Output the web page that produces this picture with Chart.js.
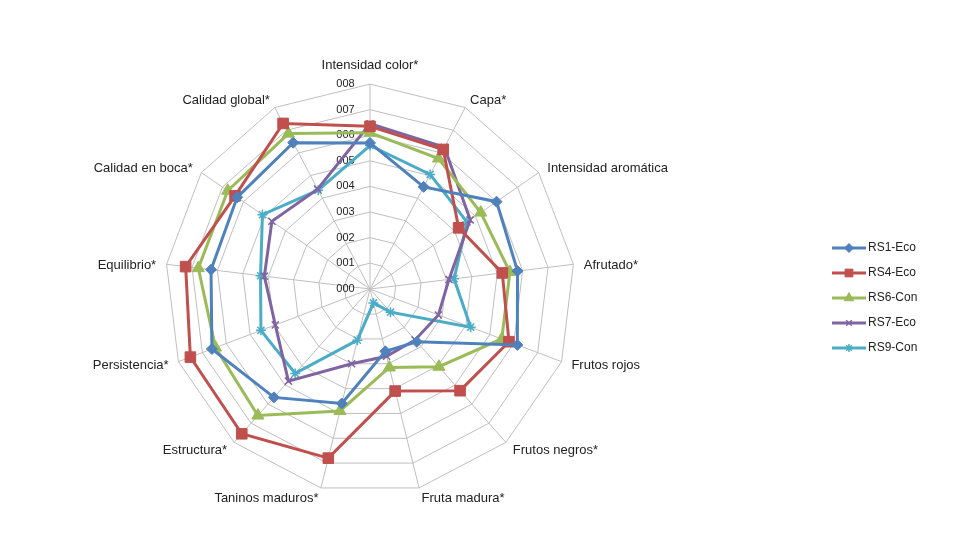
<!DOCTYPE html>
<html>
<head>
<meta charset="utf-8">
<script src="https://cdn.jsdelivr.net/npm/chart.js@4/dist/chart.umd.min.js"></script>
<style>
html,body{margin:0;padding:0;background:#fff;}
#wrap{width:980px;height:560px;position:relative;}
</style>
</head>
<body>
<div id="wrap"><canvas id="c" width="980" height="560"></canvas></div>
<script>
const categories = ["Intensidad color*", "Capa*", "Intensidad aromática", "Afrutado*", "Frutos rojos", "Frutos negros*", "Fruta madura*", "Taninos maduros*", "Estructura*", "Persistencia*", "Equilibrio*", "Calidad en boca*", "Calidad global*"];
const seriesNames = ["RS1-Eco", "RS4-Eco", "RS6-Con", "RS7-Eco", "RS9-Con"];
const rs1 = [5.7, 4.5, 6.0, 5.8, 6.15, 2.75, 2.5, 4.6, 5.65, 6.6, 6.25, 6.3, 6.45];
const rs4 = [6.35, 6.15, 4.2, 5.2, 5.8, 5.3, 4.1, 6.8, 7.55, 7.5, 7.25, 6.4, 7.3];
const rs6 = [6.1, 5.75, 5.25, 5.5, 5.5, 4.05, 3.15, 4.9, 6.6, 6.45, 6.75, 6.75, 6.85];
const rs7 = [6.45, 6.25, 4.75, 3.1, 2.85, 2.65, 2.7, 3.0, 4.8, 3.95, 4.15, 4.65, 4.4];
const rs9 = [5.6, 5.05, 4.6, 3.3, 4.2, 1.2, 0.55, 2.05, 4.4, 4.55, 4.3, 5.1, 4.35];
const tickLabels = ["000", "001", "002", "003", "004", "005", "006", "007", "008"];

const colors = ["#4F81BD", "#C0504D", "#9BBB59", "#8064A2", "#4BACC6"];
const markers = ["rectRot", "rect", "triangle", "crossRot", "star"];
const radii = [5.5, 7.5, 7, 5, 5];
const legendRadii = [4.5, 5.5, 5.5, 4, 4];
const values = [rs1, rs4, rs6, rs7, rs9];

const datasets = values.map((v, i) => ({
  label: seriesNames[i],
  data: v,
  borderColor: colors[i],
  backgroundColor: colors[i],
  pointBackgroundColor: colors[i],
  pointBorderColor: colors[i],
  pointStyle: markers[i],
  pointRadius: radii[i],
  pointBorderWidth: (i >= 3) ? 1.5 : 1,
  borderWidth: 3,
  fill: false,
  tension: 0
}));

// Excel-like vertical placement of the category labels (centred on their anchor)
const labelShiftPlugin = {
  id: 'labelShift',
  afterLayout(chart) {
    const s = chart.scales.r;
    if (!s || !s._pointLabelItems) return;
    const n = s._pointLabelItems.length;
    s._pointLabelItems.forEach((it, i) => {
      if (i === 0) return;
      const ang = (i / n) * 360;
      let dy = 0;
      if (ang < 90 || ang > 270) dy = 10;
      else if (ang > 90 && ang < 270) dy = -7.5;
      it.y += dy; it.top += dy; it.bottom += dy;
    });
  }
};

const legendPlugin = {
  id: 'sideLegend',
  afterDraw(chart) {
    const ctx = chart.ctx;
    ctx.save();
    ctx.font = '12px "Liberation Sans", Arial, sans-serif';
    ctx.textBaseline = 'middle';
    ctx.textAlign = 'left';
    chart.data.datasets.forEach((ds, i) => {
      const y = 248 + i * 25;
      const x0 = 832, x1 = 866;
      ctx.strokeStyle = ds.borderColor;
      ctx.lineWidth = 3;
      ctx.beginPath(); ctx.moveTo(x0, y); ctx.lineTo(x1, y); ctx.stroke();
      ctx.fillStyle = ds.borderColor;
      ctx.strokeStyle = ds.borderColor;
      ctx.lineWidth = ds.pointBorderWidth;
      Chart.helpers.drawPoint(ctx, {pointStyle: ds.pointStyle, radius: legendRadii[i], rotation: 0, borderWidth: ds.pointBorderWidth}, (x0 + x1) / 2, y);
      ctx.fillStyle = '#222';
      ctx.fillText(ds.label, x1 + 2, y);
    });
    ctx.restore();
  }
};

const pad = '\u00a0'.repeat(16);

new Chart(document.getElementById('c'), {
  type: 'radar',
  data: { labels: categories, datasets: datasets },
  options: {
    responsive: false,
    animation: false,
    layout: { padding: { left: 71, right: 299, top: 55, bottom: 43 } },
    plugins: { legend: { display: false }, tooltip: { enabled: false } },
    scales: {
      r: {
        min: -0.01, max: 8,
        grid: { color: '#BFBFBF', lineWidth: 1 },
        angleLines: { color: '#BFBFBF', lineWidth: 1 },
        ticks: {
          stepSize: 1,
          includeBounds: false,
          showLabelBackdrop: false,
          color: '#222',
          font: { size: 11, family: '"Liberation Sans", Arial, sans-serif' },
          callback: (v) => {
            if (v < 0) return '';
            const t = tickLabels[Math.round(v)];
            return t ? t + pad : '';
          }
        },
        pointLabels: {
          color: '#222',
          padding: 3,
          font: { size: 13, family: '"Liberation Sans", Arial, sans-serif' }
        }
      }
    }
  },
  plugins: [labelShiftPlugin, legendPlugin]
});
</script>
</body>
</html>
